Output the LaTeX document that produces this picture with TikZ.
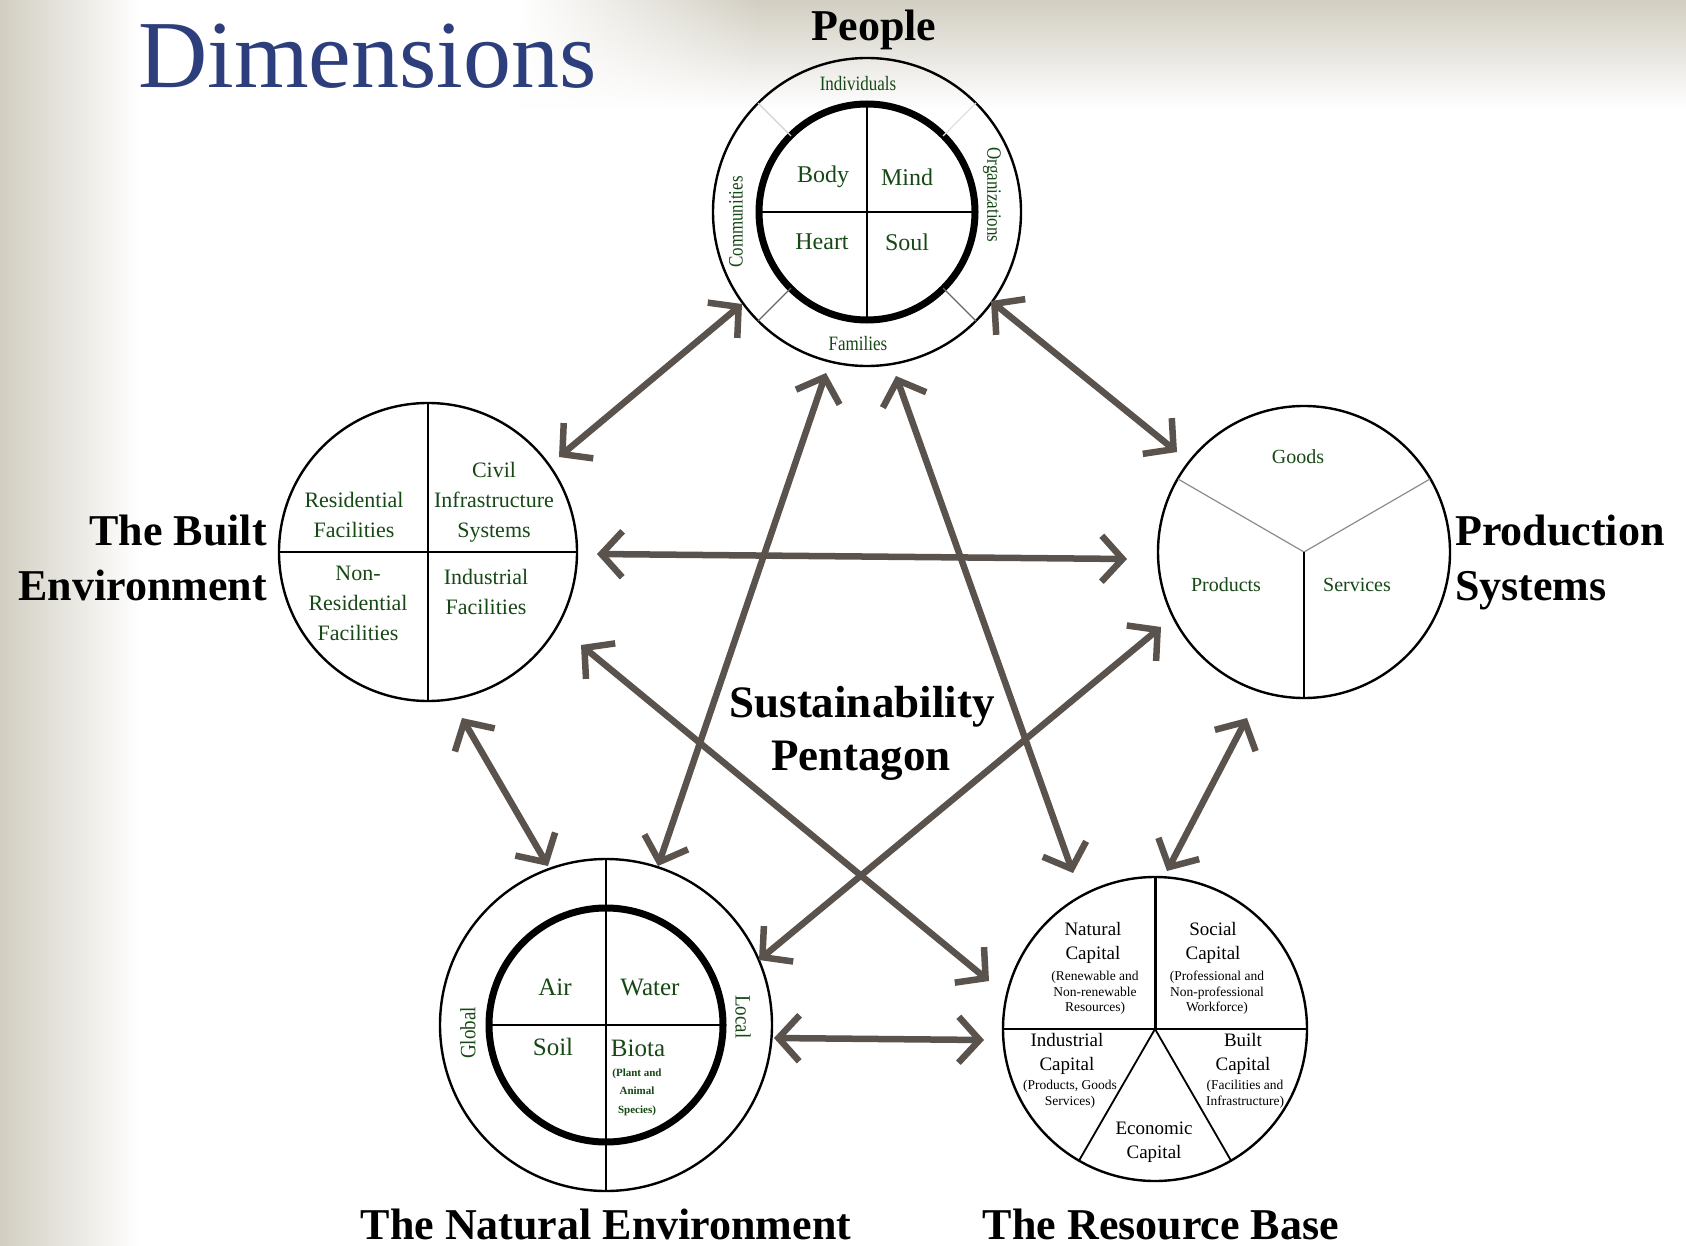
\documentclass[tikz,border=0pt]{standalone}
\usepackage{fontspec}
\setmainfont{Liberation Serif}
\usetikzlibrary{arrows.meta,fadings,calc}
\definecolor{navy}{RGB}{44,62,124}
\definecolor{dgreen}{RGB}{22,72,22}
\definecolor{arr}{RGB}{90,82,76}
\definecolor{bgc}{RGB}{210,206,194}
\begin{document}
\begin{tikzpicture}[x=1pt,y=-1pt,
  ring/.style={circle, draw=black, line width=2.4pt, inner sep=0pt, minimum size=#1},
  thickring/.style={circle, draw=black, line width=7pt, inner sep=0pt, minimum size=#1},
  sep/.style={line width=2.2pt},
  greysep/.style={line width=1.2pt, draw=#1},
  gt/.style={text=dgreen, inner sep=0pt, align=center, font=\fontsize{#1}{#1}\selectfont},
  bt/.style={text=black, inner sep=0pt, align=center, font=\fontsize{#1}{#1}\selectfont},
  title/.style={inner sep=0pt, font=\bfseries\fontsize{44}{48}\selectfont},
  link/.style={draw=arr, line width=6.5pt, {Straight Barb[length=21pt,width=46pt]}-{Straight Barb[length=21pt,width=46pt]}}
]
\useasboundingbox (0,0) rectangle (1686,1246);
% background
\fill[white] (0,0) rectangle (1686,1246);
\shade[left color=bgc, right color=white] (0,0) rectangle (140,1246);
\shade[top color=bgc, bottom color=white] (520,0) rectangle (1686,110);
\fill[white, path fading=east] (520,0) rectangle (760,110);

% title
\node[anchor=base west, inner sep=0pt, text=navy, font=\fontsize{96}{100}\selectfont] (dim) at (138,88) {Dimensions};

% ---------- People ----------
\node[ring=308pt] (people) at (867,212) {};
\node[thickring=216pt] (peoplein) at (867,212) {};
\draw[sep] ($(people)+(0,-105)$) -- ($(people)+(0,105)$);
\draw[sep] ($(people)+(-105,0)$) -- ($(people)+(105,0)$);
\draw[greysep={black!18}] ($(people)+(-76,-76)$) -- ($(people)+(-109,-109)$);
\draw[greysep={black!12}] ($(people)+(76,-76)$) -- ($(people)+(109,-109)$);
\draw[greysep={black!60}] ($(people)+(-76,76)$) -- ($(people)+(-109,109)$);
\draw[greysep={black!60}] ($(people)+(76,76)$) -- ($(people)+(109,109)$);
\node[gt=24] (body) at (823,177) {Body};
\node[gt=24] (mind) at (907,177) {Mind};
\node[gt=24] (heart) at (822,242) {Heart};
\node[gt=24] (soul) at (907,242) {Soul};
\node[gt=17] (indiv) at (858,84) {\scalebox{1}[1.2]{Individuals}};
\node[gt=17] (fam) at (858,344) {\scalebox{1}[1.2]{Families}};
\node[gt=17, rotate=90] (comm) at (736,222) {\scalebox{1}[1.2]{Communities}};
\node[gt=17, rotate=-90] (org) at (992,195) {\scalebox{1}[1.2]{Organizations}};
\node[title, anchor=base] (tpeople) at (874,41) {People};

% ---------- Built Environment ----------
\node[ring=298pt] (built) at (428,552) {};
\draw[sep] ($(built)+(0,-149)$) -- ($(built)+(0,149)$);
\draw[sep] ($(built)+(-149,0)$) -- ($(built)+(149,0)$);
\node[gt=22] (res) at (354,515) {Residential\\[8pt]Facilities};
\node[gt=22] (civ) at (494,502) {Civil\\[8pt]Infrastructure\\[8pt]Systems};
\node[gt=22] (nonres) at (358,603) {Non-\\[8pt]Residential\\[8pt]Facilities};
\node[gt=22] (ind) at (486,592) {Industrial\\[8pt]Facilities};
\node[title, anchor=base east] (tb1) at (267,545) {The Built};
\node[title, anchor=base east] (tb2) at (267,600) {Environment};

% ---------- Production Systems ----------
\node[ring=292pt] (prod) at (1304,552) {};
\draw[greysep={black!45}] (prod.center) -- ($(prod)+(-126,-73)$);
\draw[greysep={black!45}] (prod.center) -- ($(prod)+(126,-73)$);
\draw[sep] (prod.center) -- ($(prod)+(0,146)$);
\node[gt=20] (goods) at (1298,457) {Goods};
\node[gt=20] (products) at (1226,585) {Products};
\node[gt=20] (services) at (1357,585) {Services};
\node[title, anchor=base west] (tp1) at (1455,545) {Production};
\node[title, anchor=base west] (tp2) at (1455,600) {Systems};

% ---------- Natural Environment ----------
\node[ring=332pt] (nat) at (606,1025) {};
\node[thickring=234pt] (natin) at (606,1025) {};
\draw[sep] ($(nat)+(0,-166)$) -- ($(nat)+(0,166)$);
\draw[sep] ($(nat)+(-114,0)$) -- ($(nat)+(114,0)$);
\node[gt=25] (air) at (555,987) {Air};
\node[gt=25] (water) at (650,987) {Water};
\node[gt=25] (soil) at (553,1047) {Soil};
\node[gt=25] (biota) at (638,1048) {Biota};
\node[text=dgreen, inner sep=0pt, align=center, font=\bfseries\fontsize{11}{18.5}\selectfont] (biosub) at (637,1092) {(Plant and\\Animal\\Species)};
\node[gt=19, rotate=90] (glob) at (468,1033) {\scalebox{1}[1.15]{Global}};
\node[gt=19, rotate=-90] (loc) at (743,1017) {\scalebox{1}[1.15]{Local}};
\node[title, anchor=base] (tn) at (606,1239) {The Natural Environment};

% ---------- Resource Base ----------
\node[ring=304pt] (rb) at (1155,1029) {};
\draw[line width=3pt] ($(rb)+(0,-152)$) -- (rb.center);
\draw[sep] ($(rb)+(-152,0)$) -- ($(rb)+(152,0)$);
\draw[line width=1.8pt] (rb.center) -- ($(rb)+(-76,131.6)$);
\draw[line width=1.8pt] (rb.center) -- ($(rb)+(76,131.6)$);
\node[bt=19] (natcap) at (1093,943) {Natural\\[5pt]Capital};
\node[bt=13.5] (natsub) at (1095,993) {(Renewable and\\[2pt]Non-renewable\\[2pt]Resources)};
\node[bt=19] (soccap) at (1213,943) {Social\\[5pt]Capital};
\node[bt=13.5] (socsub) at (1217,993) {(Professional and\\[2pt]Non-professional\\[2pt]Workforce)};
\node[bt=19] (indcap) at (1067,1054) {Industrial\\[5pt]Capital};
\node[bt=13.5] (indsub) at (1070,1094) {(Products, Goods\\[3pt]Services)};
\node[bt=19] (bltcap) at (1243,1054) {Built\\[5pt]Capital};
\node[bt=13.5] (bltsub) at (1245,1094) {(Facilities and\\[3pt]Infrastructure)};
\node[bt=19] (ecocap) at (1154,1142) {Economic\\[5pt]Capital};
\node[title, anchor=base] (tr) at (1161,1239) {The Resource Base};

% ---------- centre label ----------
\node[title, font=\bfseries\fontsize{45}{48}\selectfont, anchor=base] (sus1) at (862,717) {Sustainability};
\node[title, font=\bfseries\fontsize{45}{48}\selectfont, anchor=base] (sus2) at (861,770) {Pentagon};

% ---------- arrows ----------
\coordinate (a1s) at (742,304);  \coordinate (a1e) at (559,457);
\coordinate (a2s) at (991,301);  \coordinate (a2e) at (1177,452);
\coordinate (a3s) at (597,554);  \coordinate (a3e) at (1127,559);
\coordinate (a4s) at (826,373);  \coordinate (a4e) at (658,866);
\coordinate (a5s) at (896,376);  \coordinate (a5e) at (1073,873);
\coordinate (a6s) at (581,645);  \coordinate (a6e) at (989,981);
\coordinate (a7s) at (1161,627); \coordinate (a7e) at (759,960);
\coordinate (a8s) at (462,718);  \coordinate (a8e) at (548,866);
\coordinate (a9s) at (1247,718); \coordinate (a9e) at (1167,871);
\coordinate (a10s) at (774,1038); \coordinate (a10e) at (984,1040);
\foreach \i in {1,...,10} {\draw[link] (a\i s) -- (a\i e);}
\end{tikzpicture}
\end{document}
